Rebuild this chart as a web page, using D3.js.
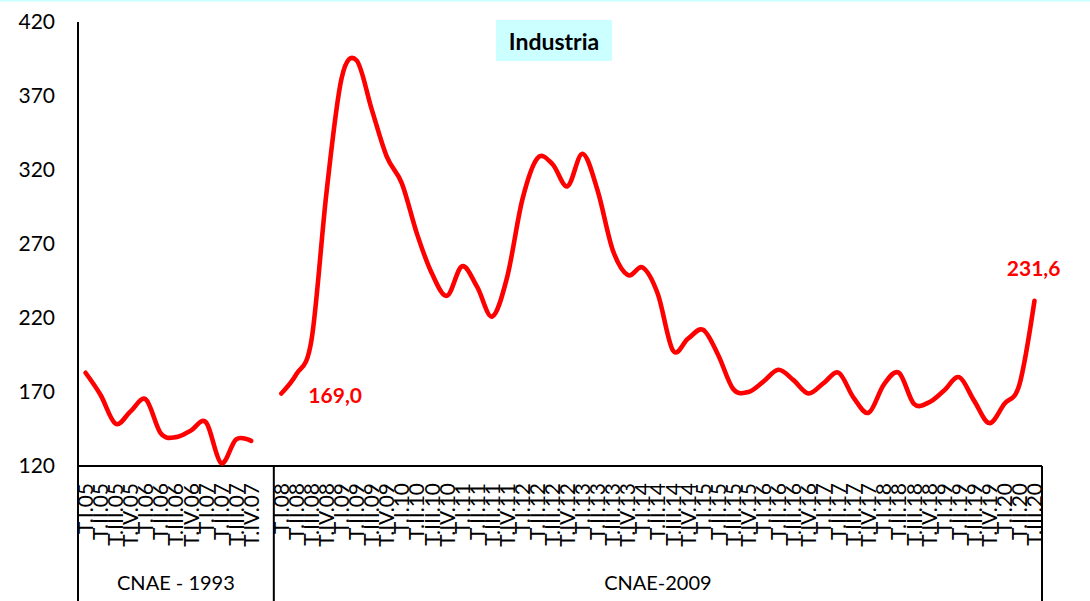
<!DOCTYPE html>
<html>
<head>
<meta charset="utf-8">
<script src="https://cdn.jsdelivr.net/npm/d3@7"></script>
<style>
  html, body { margin: 0; padding: 0; background: #fff; }
  svg { display: block; font-family: Lato, "Open Sans", sans-serif; }
</style>
</head>
<body>
<svg id="chart" width="1090" height="601"></svg>
<script>
// ---- data ----
const title = "Industria";
const groupLabels = ["CNAE - 1993", "CNAE-2009"];
const categoriesA = ["T.I.05","T.II.05","T.III.05","T.IV.05","T.I.06","T.II.06","T.III.06","T.IV.06","T.I.07","T.II.07","T.III.07","T.IV.07"];
const gapCategory = [" "];
const categoriesB = [
  "T.I.08","T.II.08","T.III.08","T.IV.08","T.I.09","T.II.09","T.III.09","T.IV.09",
  "T.I.10","T.II.10","T.III.10","T.IV.10","T.I.11","T.II.11","T.III.11","T.IV.11",
  "T.I.12","T.II.12","T.III.12","T.IV.12","T.I.13","T.II.13","T.III.13","T.IV.13",
  "T.I.14","T.II.14","T.III.14","T.IV.14","T.I.15","T.II.15","T.III.15","T.IV.15",
  "T.I.16","T.II.16","T.III.16","T.IV.16","T.I.17","T.II.17","T.III.17","T.IV.17",
  "T.I.18","T.II.18","T.III.18","T.IV.18","T.I.19","T.II.19","T.III.19","T.IV.19",
  "T.I.20","T.II.20","T.III.20"];
const valuesA = [183, 168, 148.5, 157, 165, 142, 139.5, 144, 149.5, 122, 138, 137];
const valuesB = [
  169.0, 182, 205, 305, 382, 394, 361, 329,
  311, 277, 250, 235, 255, 241, 221, 248,
  300, 328, 324, 309, 331, 306, 266, 249,
  254, 236, 198, 206, 212, 195, 172, 170,
  177, 185, 178, 169, 176, 183, 166, 156,
  175, 183, 162, 163, 171, 180, 164, 149,
  162, 175, 231.6];
const yTicks = [120, 170, 220, 270, 320, 370, 420];
const labelFirst = "169,0";
const labelLast = "231,6";

(function draw() {
  const svg = d3.select("#chart");
  const plotLeft = 78, plotRight = 1042, plotTop = 22, axisY = 466, bottomEdge = 601;
  const allCats = categoriesA.concat(gapCategory, categoriesB);

  const x = d3.scaleBand().domain(allCats).range([plotLeft, plotRight]).paddingInner(0).paddingOuter(0);
  const y = d3.scaleLinear().domain([120, 420]).range([axisY, plotTop]);
  const cx = c => x(c) + x.bandwidth() / 2;

  // top cyan border
  svg.append("rect").attr("x", 0).attr("y", 0).attr("width", 1090).attr("height", 1.5).attr("fill", "#ccffff");

  // y-axis labels
  const yAxis = d3.axisLeft(y).tickValues(yTicks).tickSize(0).tickPadding(0).tickFormat(d3.format("d"));
  const yg = svg.append("g").attr("transform", "translate(55,0)").call(yAxis);
  yg.select(".domain").remove();
  yg.selectAll("text").attr("font-size", 21).attr("fill", "#000").attr("font-family", "Lato, sans-serif");

  // axis lines
  const lineColor = "#000";
  svg.append("line").attr("x1", plotLeft).attr("x2", plotLeft).attr("y1", plotTop).attr("y2", bottomEdge).attr("stroke", lineColor).attr("stroke-width", 2);
  svg.append("line").attr("x1", plotLeft).attr("x2", plotRight).attr("y1", axisY).attr("y2", axisY).attr("stroke", lineColor).attr("stroke-width", 2.2);
  const sepX = x(categoriesB[0]);
  svg.append("line").attr("x1", sepX).attr("x2", sepX).attr("y1", axisY).attr("y2", bottomEdge).attr("stroke", lineColor).attr("stroke-width", 2);
  svg.append("line").attr("x1", plotRight).attr("x2", plotRight).attr("y1", axisY).attr("y2", bottomEdge).attr("stroke", lineColor).attr("stroke-width", 2);

  // category labels (rotated)
  const xAxis = d3.axisBottom(x).tickSize(0).tickPadding(0).tickFormat(d => d.trim());
  const xg = svg.append("g").attr("transform", `translate(0,${axisY})`).call(xAxis);
  xg.select(".domain").remove();
  xg.selectAll("text")
    .attr("font-size", 21)
    .attr("font-family", "Lato, sans-serif")
    .attr("fill", "#000")
    .attr("text-anchor", "end")
    .attr("transform", "translate(0,17) rotate(-90)")
    .attr("x", 0).attr("y", 0).attr("dy", "0.36em");

  // group labels
  const gA0 = x(categoriesA[0]), gA1 = sepX, gB1 = plotRight;
  svg.append("text").attr("x", (gA0 + gA1) / 2).attr("y", 590).attr("text-anchor", "middle")
    .attr("font-size", 20).attr("fill", "#000").text(groupLabels[0]);
  svg.append("text").attr("x", (gA1 + gB1) / 2).attr("y", 590).attr("text-anchor", "middle")
    .attr("font-size", 20).attr("fill", "#000").text(groupLabels[1]);

  // lines
  const lineGen = d3.line().x(d => cx(d.c)).y(d => y(d.v)).curve(d3.curveCardinal.tension(0));
  const dataA = categoriesA.map((c, i) => ({c, v: valuesA[i]}));
  const dataB = categoriesB.map((c, i) => ({c, v: valuesB[i]}));
  [dataA, dataB].forEach(d => {
    svg.append("path").datum(d).attr("d", lineGen).attr("fill", "none")
      .attr("stroke", "#ff0000").attr("stroke-width", 4.6)
      .attr("stroke-linecap", "round").attr("stroke-linejoin", "round");
  });

  // data labels
  svg.append("text").attr("x", cx(categoriesB[0]) + 27).attr("y", y(valuesB[0]) + 10)
    .attr("font-size", 21).attr("font-weight", "bold").attr("fill", "#ff0000").text(labelFirst);
  const lastC = categoriesB[categoriesB.length - 1];
  svg.append("text").attr("x", cx(lastC) + 26).attr("y", y(valuesB[valuesB.length - 1]) - 25)
    .attr("text-anchor", "end")
    .attr("font-size", 21).attr("font-weight", "bold").attr("fill", "#ff0000").text(labelLast);

  // title box
  const tg = svg.append("g");
  tg.append("rect").attr("x", 496).attr("y", 20).attr("width", 116).attr("height", 41).attr("fill", "#ccffff");
  tg.append("text").attr("x", 554).attr("y", 49.5).attr("text-anchor", "middle")
    .attr("font-size", 23).attr("font-weight", "bold").attr("fill", "#000").text(title);
})();
</script>
</body>
</html>
